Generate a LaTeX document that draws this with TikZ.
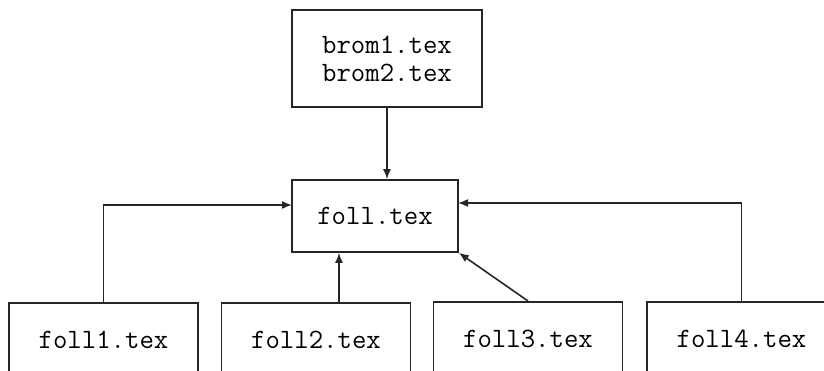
\documentclass[tikz,border=0pt]{standalone}
\usetikzlibrary{arrows.meta}
\tikzset{
  box/.style={draw=black!85, line width=1.6pt, inner sep=0pt, font=\ttfamily\fontsize{28}{28}\selectfont},
  lowbox/.style={box, anchor=north, minimum width=189pt, text height=46pt, text depth=62pt},
  conn/.style={draw=black!85, line width=1.6pt, -{Latex[length=10pt,width=8pt]}}
}
\begin{document}
\begin{tikzpicture}[x=1pt,y=-1pt]
\useasboundingbox (0,0) rectangle (824,370);
\clip (0,0) rectangle (824,370);
\node[box, minimum width=190pt, minimum height=97pt, align=center] (brom) at (387,58.5) {brom1.tex\\brom2.tex};
\node[box, minimum width=166pt, minimum height=72pt] (foll) at (375,216) {foll.tex};
\node[lowbox] (f1) at (103.5,302) {foll1.tex};
\node[lowbox] (f2) at (316,302) {foll2.tex};
\node[lowbox] (f3) at (528,301) {foll3.tex};
\node[lowbox] (f4) at (741.5,301) {foll4.tex};
\coordinate (a1) at (292,205);
\coordinate (a4) at (458,203);
\draw[conn] (brom.south) -- (brom.south |- foll.north);
\draw[conn] (f1.north) |- (a1);
\draw[conn] ([xshift=23pt]f2.north) -- ([xshift=23pt]f2.north |- foll.south);
\draw[conn] (f3.north) -- (foll.south east);
\draw[conn] (f4.north) |- (a4);
\end{tikzpicture}
\end{document}
